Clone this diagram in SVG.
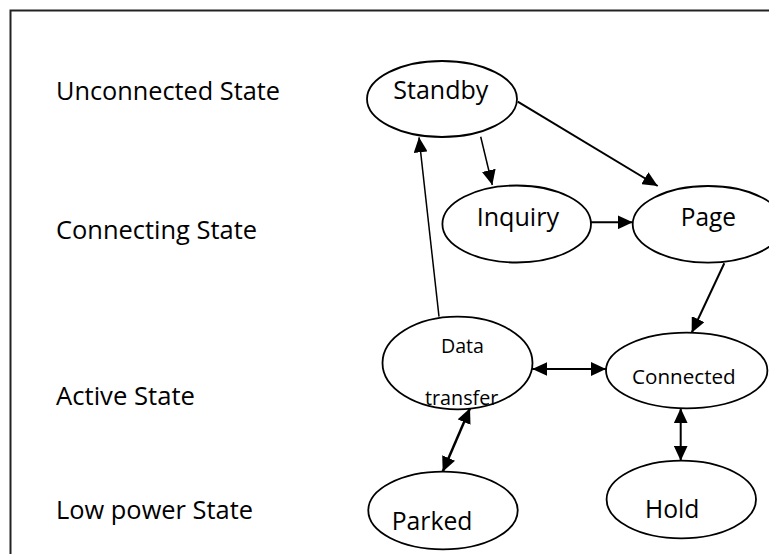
<svg xmlns="http://www.w3.org/2000/svg" width="769" height="554" viewBox="0 0 769 554">
<defs>
<style>
.lbl{font-family:"Open Sans","Liberation Sans",sans-serif;font-size:25px;fill:#000}
.sm{font-size:20px}
.node ellipse{fill:#fff;stroke:#000;stroke-width:1.8}
.edge{stroke:#000;fill:none}
</style>
<marker id="ah" markerUnits="userSpaceOnUse" markerWidth="16" markerHeight="14" refX="15" refY="7" orient="auto-start-reverse">
<path d="M0,0 L15,7 L0,14 z" fill="#000"/>
</marker>
</defs>
<rect width="769" height="554" fill="#fff"/>
<path d="M10.5,554 V10.5 H769" fill="none" stroke="#222" stroke-width="2"/>
<g id="levels">
<text class="lbl" x="56" y="100" textLength="224" lengthAdjust="spacingAndGlyphs">Unconnected State</text>
<text class="lbl" x="56" y="239" textLength="201" lengthAdjust="spacingAndGlyphs">Connecting State</text>
<text class="lbl" x="56" y="405" textLength="139" lengthAdjust="spacingAndGlyphs">Active State</text>
<text class="lbl" x="56" y="519" textLength="197" lengthAdjust="spacingAndGlyphs">Low power State</text>
</g>
<g id="connectors">
<line class="edge" x1="480.7" y1="136.7" x2="492.3" y2="185" stroke-width="1.5" marker-end="url(#ah)"/>
<line class="edge" x1="517.7" y1="101.7" x2="657.7" y2="186" stroke-width="2" marker-end="url(#ah)"/>
<line class="edge" x1="591" y1="222.3" x2="632.7" y2="222.3" stroke-width="2" marker-end="url(#ah)"/>
<line class="edge" x1="439" y1="316.7" x2="419" y2="137.3" stroke-width="1.5" marker-end="url(#ah)"/>
<line class="edge" x1="724.3" y1="263.3" x2="691.7" y2="332.7" stroke-width="2" marker-end="url(#ah)"/>
<line class="edge" x1="532.3" y1="369" x2="606" y2="369" stroke-width="2" marker-start="url(#ah)" marker-end="url(#ah)"/>
<line class="edge" x1="680.7" y1="408.3" x2="680.7" y2="460.7" stroke-width="2" marker-start="url(#ah)" marker-end="url(#ah)"/>
<line class="edge" x1="470" y1="408.3" x2="442.7" y2="471.7" stroke-width="2.5" marker-start="url(#ah)" marker-end="url(#ah)"/>
</g>
<g id="standby" class="node">
<ellipse cx="442" cy="99" rx="75" ry="38"/>
<text class="lbl" x="393.3" y="99.3" textLength="95" lengthAdjust="spacingAndGlyphs">Standby</text>
</g>
<g id="inquiry" class="node">
<ellipse cx="516.7" cy="224" rx="74.3" ry="38.5"/>
<text class="lbl" x="476.7" y="226" textLength="82.3" lengthAdjust="spacingAndGlyphs">Inquiry</text>
</g>
<g id="page" class="node">
<ellipse cx="708" cy="224.3" rx="75.3" ry="38.3"/>
<text class="lbl" x="680.7" y="226" textLength="55.3" lengthAdjust="spacingAndGlyphs">Page</text>
</g>
<g id="datatransfer" class="node">
<ellipse cx="457.5" cy="363" rx="75" ry="46.3"/>
<text class="lbl sm" x="441" y="352.7" textLength="43" lengthAdjust="spacingAndGlyphs">Data</text>
<text class="lbl sm" x="425" y="405" textLength="73.3" lengthAdjust="spacingAndGlyphs">transfer</text>
</g>
<g id="connected" class="node">
<ellipse cx="686.7" cy="370.5" rx="80.7" ry="37.8"/>
<text class="lbl sm" x="632" y="384.3" textLength="103.7" lengthAdjust="spacingAndGlyphs">Connected</text>
</g>
<g id="hold" class="node">
<ellipse cx="681.3" cy="499.5" rx="74.7" ry="38.8"/>
<text class="lbl" x="645" y="518.3" textLength="54.3" lengthAdjust="spacingAndGlyphs">Hold</text>
</g>
<g id="parked" class="node">
<ellipse cx="443" cy="510.5" rx="74.7" ry="38.8"/>
<text class="lbl" x="391.7" y="530" textLength="80.7" lengthAdjust="spacingAndGlyphs">Parked</text>
</g>
</svg>
